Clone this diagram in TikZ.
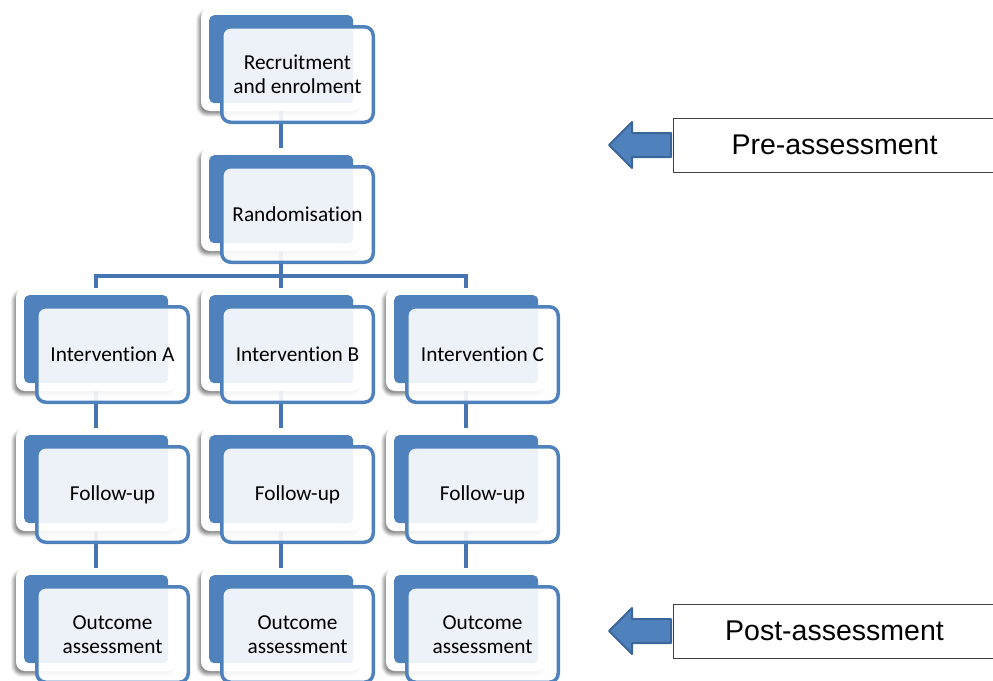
\documentclass[tikz,border=0pt]{standalone}
\usepackage{fontspec}
\setmainfont{Carlito}[Ligatures=NoCommon]
\newfontfamily\arialfont{Liberation Sans}
\usetikzlibrary{shapes.arrows,shadows.blur}
\pgfdeclarelayer{background}
\pgfsetlayers{background,main}

\definecolor{boxblue}{HTML}{4F81BD}
\definecolor{linkblue}{HTML}{4674B0}
\definecolor{arrowedge}{HTML}{3B6699}
\definecolor{frameedge}{HTML}{404040}

\tikzset{
  card/.style={fill=white, rounded corners=9pt, inner sep=0pt, outer sep=0pt,
    minimum width=160pt, minimum height=103pt, anchor=north west,
    blur shadow={shadow xshift=-2.5pt, shadow yshift=-3.5pt,
      shadow blur radius=3pt, shadow opacity=45}},
  backpanel/.style={fill=boxblue, rounded corners=5pt, inner sep=0pt,
    minimum width=144pt, minimum height=88pt, anchor=north west},
  frontpanel/.style={draw=boxblue, line width=3.5pt, fill=white,
    fill opacity=0.9, text opacity=1, rounded corners=9pt, inner sep=0pt,
    minimum width=151.5pt, minimum height=95.5pt, anchor=north west,
    align=center, text=black, font=\fontsize{21.3}{24}\selectfont},
  link/.style={draw=linkblue, line width=4pt},
  phase/.style={draw=frameedge, line width=1pt, fill=white, inner sep=0pt,
    minimum width=322pt, minimum height=54pt, anchor=west,
    font=\arialfont\fontsize{28.5}{32}\selectfont},
  phasearrow/.style={single arrow, shape border rotate=180, fill=boxblue,
    draw=arrowedge, line width=2pt, line join=round, inner xsep=0pt,
    inner ysep=11pt, minimum height=62pt, minimum width=44pt,
    single arrow head extend=11pt, single arrow head indent=0pt, anchor=east}
}

% one stage: white card, blue panel behind, translucent framed panel in front
\newcommand\stagebox[4]{%
  \node[card] (#1-card) at (#2,#3) {};
  \node[backpanel] (#1-back) at ([shift={(8,7)}]#1-card.north west) {};
  \node[frontpanel] (#1) at ([shift={(19,17)}]#1-card.north west) {#4};
}

\begin{document}
\begin{tikzpicture}[x=1pt,y=-1pt]
  \path[use as bounding box] (0,0) rectangle (993,680);
  \clip (0,0) rectangle (993,680);

  % stages
  \stagebox{rec}{201}{8}{Recruitment\\and enrolment}
  \stagebox{rand}{201}{148}{Randomisation}
  \stagebox{ia}{16}{288}{Intervention A}
  \stagebox{ib}{201}{288}{Intervention B}
  \stagebox{ic}{386}{288}{Intervention C}
  \stagebox{fa}{16}{428}{Follow-up}
  \stagebox{fb}{201}{428}{Follow-up}
  \stagebox{fc}{386}{428}{Follow-up}
  \stagebox{oa}{16}{568}{Outcome\\assessment}
  \stagebox{ob}{201}{568}{Outcome\\assessment}
  \stagebox{oc}{386}{568}{Outcome\\assessment}

  % connectors, kept underneath the stages
  \begin{pgfonlayer}{background}
    \coordinate (split) at ([yshift=-25pt]rand-card.south);
    \draw[link] (rec-card.south) -- (rand-card.north);
    \draw[link] (rand-card.south) -- (split);
    \draw[link] (split) -| (ia-card.north);
    \draw[link] (split) -- (ib-card.north);
    \draw[link] (split) -| (ic-card.north);
    \draw[link] (ia-card.south) -- (fa-card.north);
    \draw[link] (ib-card.south) -- (fb-card.north);
    \draw[link] (ic-card.south) -- (fc-card.north);
    \draw[link] (fa-card.south) -- (oa-card.north);
    \draw[link] (fb-card.south) -- (ob-card.north);
    \draw[link] (fc-card.south) -- (oc-card.north);
  \end{pgfonlayer}

  % assessment phases
  \node[phase] (pre) at (673,145) {Pre-assessment};
  \node[phase] (post) at (673,631) {Post-assessment};
  \node[phasearrow] (prearrow) at ([xshift=-1pt]pre.west) {};
  \node[phasearrow] (postarrow) at ([xshift=-1pt]post.west) {};
\end{tikzpicture}
\end{document}
